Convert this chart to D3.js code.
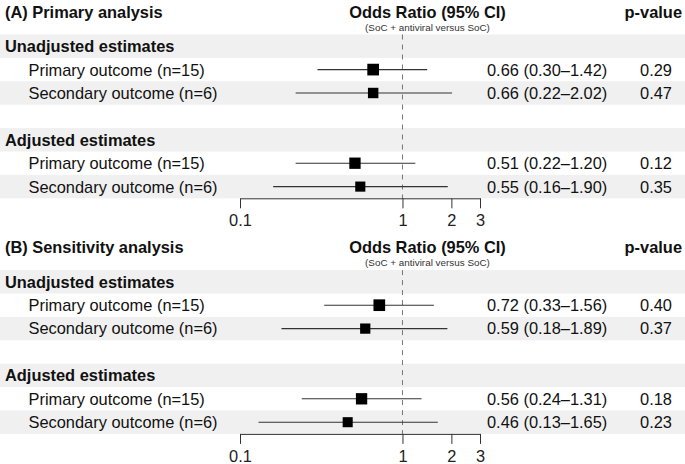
<!DOCTYPE html>
<html>
<head>
<meta charset="utf-8">
<script src="https://cdn.jsdelivr.net/npm/d3@7"></script>
<style>
  html, body { margin: 0; padding: 0; background: #fff; }
  svg { display: block; font-family: "Liberation Sans", Arial, Helvetica, sans-serif; }
</style>
</head>
<body>
<svg id="chart" width="685" height="464"></svg>
<script>
// ---------- DATA ----------
const panelTitles = ["(A) Primary analysis", "(B) Sensitivity analysis"];
const groupLabels = ["Unadjusted estimates", "Adjusted estimates"];
const outcomeLabels = ["Primary outcome (n=15)", "Secondary outcome (n=6)"];
const columnHeader = "Odds Ratio (95% CI)";
const columnSubHeader = "(SoC + antiviral versus SoC)";
const pHeader = "p-value";

// order: unadjusted primary, unadjusted secondary, adjusted primary, adjusted secondary
const estA   = [0.66, 0.66, 0.51, 0.55];
const lowerA = [0.30, 0.22, 0.22, 0.16];
const upperA = [1.42, 2.02, 1.20, 1.90];
const pA     = ["0.29", "0.47", "0.12", "0.35"];

const estB   = [0.72, 0.59, 0.56, 0.46];
const lowerB = [0.33, 0.18, 0.24, 0.13];
const upperB = [1.56, 1.89, 1.31, 1.65];
const pB     = ["0.40", "0.37", "0.18", "0.23"];

const tickValues = [0.1, 1, 2, 3];
const tickLabels = ["0.1", "1", "2", "3"];

// ---------- LAYOUT ----------
const svg = d3.select("#chart");
const FS = 16.4;
const panelOffset = 235.6;
const x = d3.scaleLog().domain([0.1, 3]).range([240, 480]);
const rowIds = d3.range(7);
const y = d3.scaleBand().domain(rowIds).range([34.5, 198.3]).padding(0);

const panels = [
  { title: panelTitles[0], est: estA, lo: lowerA, hi: upperA, p: pA },
  { title: panelTitles[1], est: estB, lo: lowerB, hi: upperB, p: pB }
];

const fmt = d3.format(".2f");

panels.forEach((pd, pi) => {
  const g = svg.append("g").attr("transform", `translate(0,${pi * panelOffset})`);

  // rows: header, out, out, blank, header, out, out
  const rows = [];
  groupLabels.forEach((gl, gi) => {
    rows.push({ type: "group", label: gl });
    outcomeLabels.forEach((ol, oi) => {
      const k = gi * 2 + oi;
      rows.push({ type: "item", label: ol, est: pd.est[k], lo: pd.lo[k], hi: pd.hi[k], p: pd.p[k] });
    });
    if (gi === 0) rows.push({ type: "blank" });
  });
  rows.forEach((r, i) => r.i = i);

  // background bands
  g.selectAll("rect.band").data(rows.filter(r => r.i % 2 === 0)).enter()
    .append("rect").attr("class", "band")
    .attr("x", 0).attr("width", 685)
    .attr("y", r => y(r.i)).attr("height", y.bandwidth())
    .attr("fill", "#f0f0f0");

  // headers
  g.append("text").attr("x", 5).attr("y", 17.5)
    .attr("font-size", FS).attr("font-weight", "bold").attr("fill", "#111")
    .text(pd.title);
  g.append("text").attr("x", 427.5).attr("y", 17.5).attr("text-anchor", "middle")
    .attr("font-size", FS).attr("font-weight", "bold").attr("fill", "#111")
    .text(columnHeader);
  g.append("text").attr("x", 427.5).attr("y", 30.5).attr("text-anchor", "middle")
    .attr("font-size", 9.9).attr("fill", "#333")
    .text(columnSubHeader);
  g.append("text").attr("x", 682).attr("y", 17.5).attr("text-anchor", "end")
    .attr("font-size", FS).attr("font-weight", "bold").attr("fill", "#111")
    .text(pHeader);

  const cy = r => y(r.i) + y.bandwidth() / 2;

  // row labels
  g.selectAll("text.rowlab").data(rows.filter(r => r.type !== "blank")).enter()
    .append("text").attr("class", "rowlab")
    .attr("x", r => r.type === "group" ? 5 : 28.5)
    .attr("y", r => cy(r) + FS * 0.36)
    .attr("font-size", FS)
    .attr("font-weight", r => r.type === "group" ? "bold" : "normal")
    .attr("fill", "#111")
    .text(r => r.label);

  const items = rows.filter(r => r.type === "item");

  // reference dashed line
  g.append("line")
    .attr("x1", x(1)).attr("x2", x(1))
    .attr("y1", y(0)).attr("y2", y.range()[1])
    .attr("stroke", "#777").attr("stroke-width", 1)
    .attr("stroke-dasharray", "5,5");

  // CI lines
  g.selectAll("line.ci").data(items).enter()
    .append("line").attr("class", "ci")
    .attr("x1", r => x(r.lo)).attr("x2", r => x(r.hi))
    .attr("y1", cy).attr("y2", cy)
    .attr("stroke", "#333").attr("stroke-width", 1.1);

  // boxes (size by precision)
  const boxSize = r => 7.5 + 6.5 / Math.log(r.hi / r.lo);
  g.selectAll("rect.box").data(items).enter()
    .append("rect").attr("class", "box")
    .attr("x", r => x(r.est) - boxSize(r) / 2)
    .attr("y", r => cy(r) - boxSize(r) / 2)
    .attr("width", boxSize).attr("height", boxSize)
    .attr("fill", "#000");

  // estimate text
  g.selectAll("text.est").data(items).enter()
    .append("text").attr("class", "est")
    .attr("x", 487).attr("y", r => cy(r) + FS * 0.36)
    .attr("font-size", FS).attr("fill", "#111")
    .text(r => `${fmt(r.est)} (${fmt(r.lo)}–${fmt(r.hi)})`);

  // p-values
  g.selectAll("text.pv").data(items).enter()
    .append("text").attr("class", "pv")
    .attr("x", 656).attr("y", r => cy(r) + FS * 0.36)
    .attr("text-anchor", "middle")
    .attr("font-size", FS).attr("fill", "#111")
    .text(r => r.p);

  // axis
  const axis = d3.axisBottom(x)
    .tickValues(tickValues)
    .tickFormat((d, i) => tickLabels[i])
    .tickSize(10).tickSizeOuter(0).tickPadding(6);
  const ag = g.append("g")
    .attr("transform", `translate(0,${y.range()[1]})`)
    .call(axis);
  ag.select(".domain").attr("stroke", "#333");
  ag.selectAll(".tick line").attr("stroke", "#333");
  ag.selectAll(".tick text").attr("font-size", FS).attr("fill", "#222")
    .attr("font-family", "'Liberation Sans', Arial, sans-serif");
});
</script>
</body>
</html>
